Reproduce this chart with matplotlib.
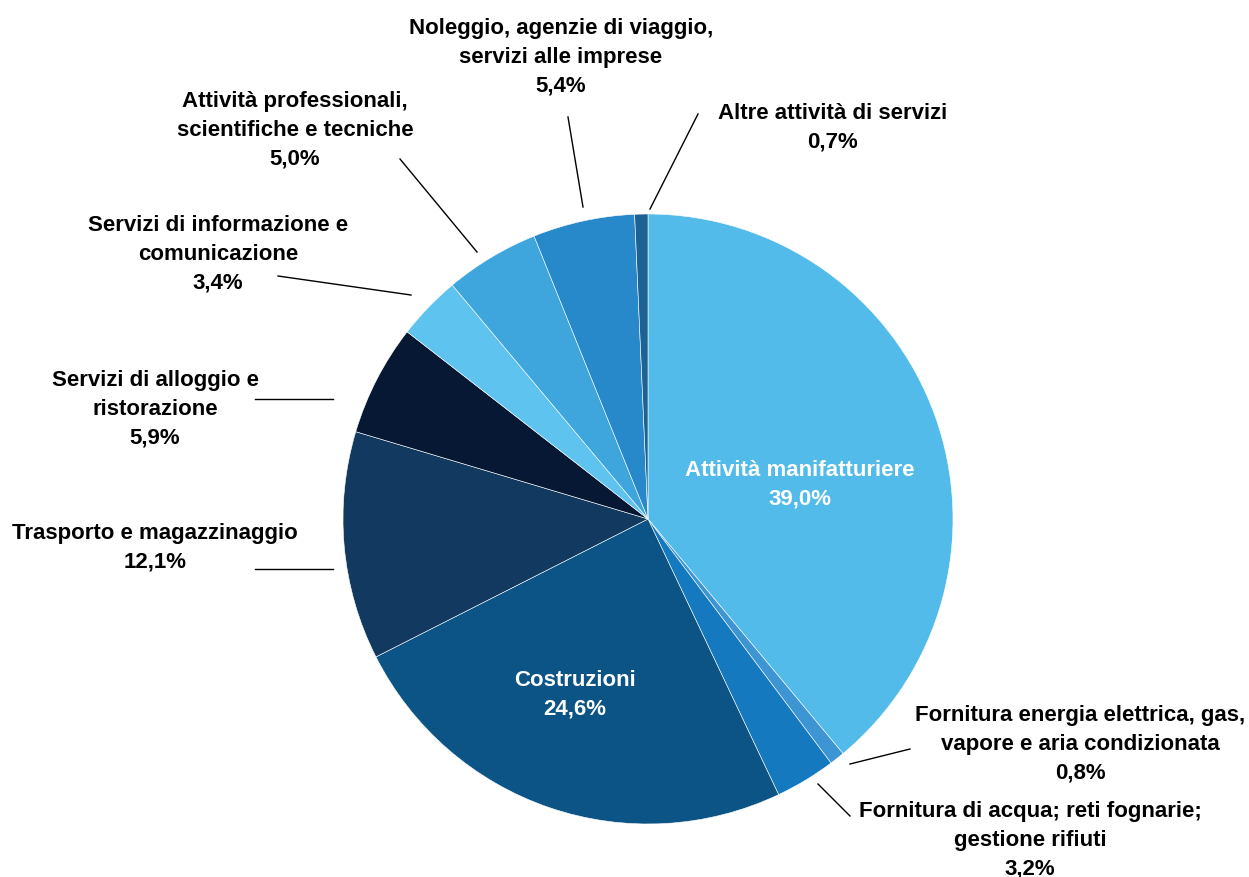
import matplotlib.pyplot as plt

H = 878

sectors = ["Attività manifatturiere",
           "Fornitura energia elettrica, gas,\nvapore e aria condizionata",
           "Fornitura di acqua; reti fognarie;\ngestione rifiuti",
           "Costruzioni",
           "Trasporto e magazzinaggio",
           "Servizi di alloggio e\nristorazione",
           "Servizi di informazione e\ncomunicazione",
           "Attività professionali,\nscientifiche e tecniche",
           "Noleggio, agenzie di viaggio,\nservizi alle imprese",
           "Altre attività di servizi"]
shares = [39.0, 0.8, 3.2, 24.6, 12.1, 5.9, 3.4, 5.0, 5.4, 0.7]
colors = ["#52bbe9", "#3d95d4", "#1479be", "#0b5485", "#12395f",
          "#061833", "#5fc3f0", "#3fa5dd", "#2789c9", "#1c6293"]

# label centre x and first-line centre y in pixels, leader line (from, to) in pixels
label_pos = [(800, 467), (1080, 712), (1030, 808), (575, 677), (155, 530),
             (155, 377), (218, 222), (295, 98), (561, 25), (833, 110)]
leaders = [None, ((850, 765), (910, 750)), ((818, 785), (850, 817)), None,
           ((255, 570), (333, 570)), ((255, 400), (333, 400)),
           ((278, 277), (411, 296)), ((400, 160), (477, 253)),
           ((568, 118), (583, 208)), ((698, 115), (650, 210))]
inside = [True, False, False, True, False, False, False, False, False, False]

fig = plt.figure(figsize=(12.49, 8.78), dpi=100)
ax = fig.add_axes([0, 0, 1, 1])

ax.pie(shares, colors=colors, startangle=90, counterclock=False,
       center=(648, H - 520), radius=305,
       wedgeprops=dict(edgecolor="white", linewidth=0.4))

ax.set_xlim(0, 1249)
ax.set_ylim(0, H)
ax.set_aspect("equal")
ax.axis("off")

for name, val, (x, y), ins in zip(sectors, shares, label_pos, inside):
    txt = name + "\n" + ("%.1f%%" % val).replace(".", ",")
    ax.text(x, H - y + 7, txt, ha="center", va="top", fontsize=16,
            fontweight="bold", family="Liberation Sans",
            color="white" if ins else "black", linespacing=1.47)

for ld in leaders:
    if ld is None:
        continue
    (x0, y0), (x1, y1) = ld
    ax.plot([x0, x1], [H - y0, H - y1], color="black", linewidth=1)

fig.savefig("out.png", dpi=100)
